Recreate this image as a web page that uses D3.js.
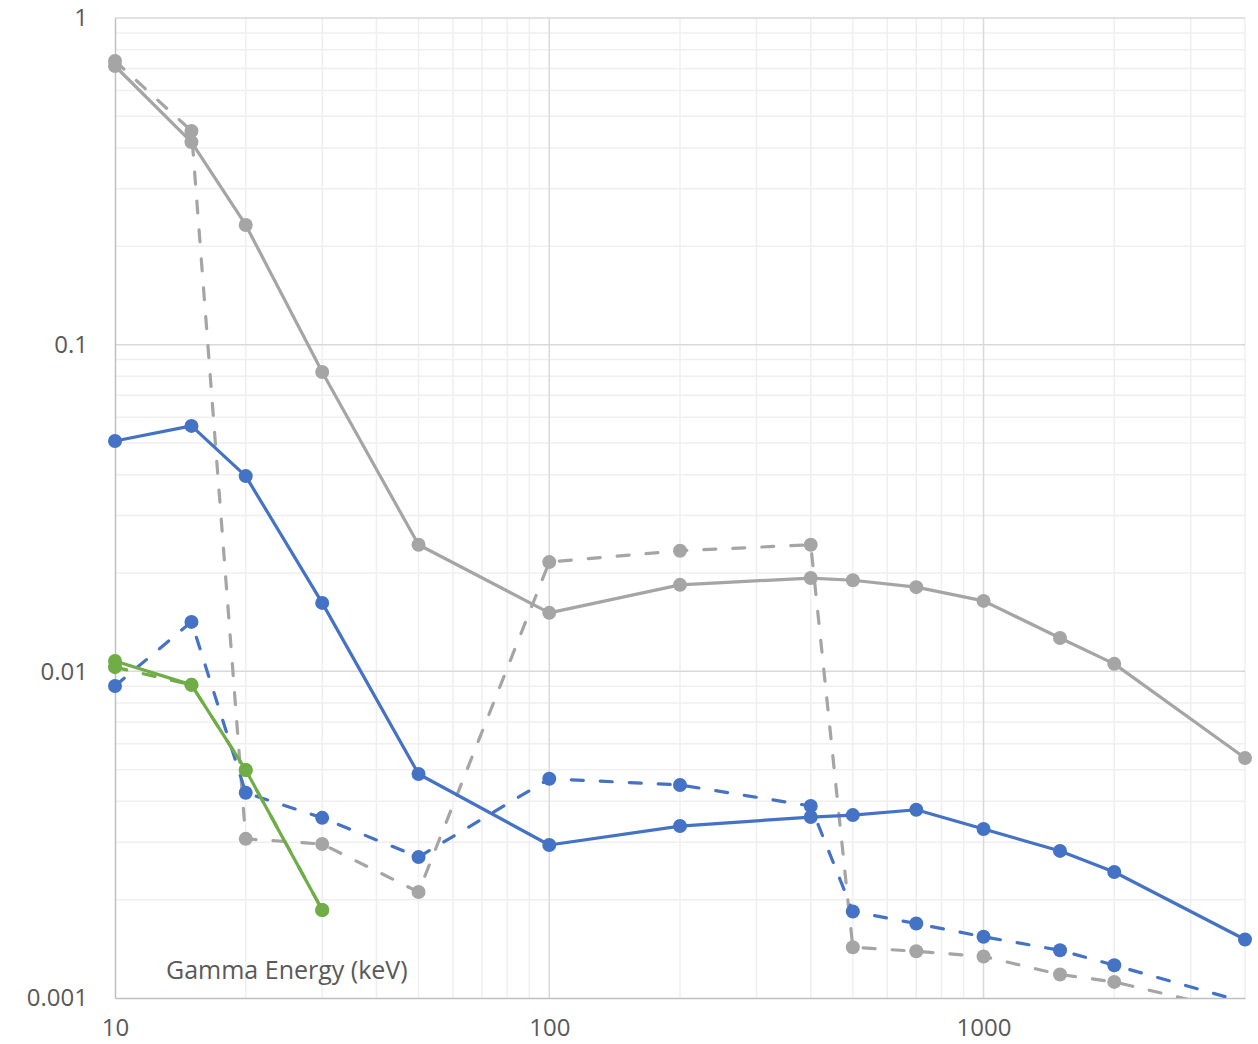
<!DOCTYPE html>
<html>
<head>
<meta charset="utf-8">
<script src="https://cdn.jsdelivr.net/npm/d3@7"></script>
<style>
  html, body { margin: 0; padding: 0; background: #fff; }
  svg { display: block; }
  text { font-family: "Open Sans", "Liberation Sans", sans-serif; fill: #595959; }
</style>
</head>
<body>
<svg id="chart" width="1258" height="1044"></svg>
<script>
// Photon energies (keV)
const energies = [10, 15, 20, 30, 50, 100, 200, 400, 500, 700, 1000, 1500, 2000, 4000];

// Grey series
const greySolid  = [0.713, 0.417, 0.2325, 0.0825, 0.0244, 0.0151, 0.0184, 0.0193, 0.0190, 0.0181, 0.01643, 0.01265, 0.01054, 0.00543];
const greyDashed = [0.739, 0.451, 0.00307, 0.00296, 0.00211, 0.0216, 0.0234, 0.0244, 0.00143, 0.00139, 0.00134, 0.00118, 0.00112, 0.00090];

// Blue series
const blueSolid  = [0.0507, 0.0564, 0.0396, 0.0162, 0.00485, 0.00294, 0.00336, 0.00358, 0.00363, 0.00377, 0.00329, 0.00282, 0.00243, 0.00151];
const blueDashed = [0.00902, 0.01417, 0.00425, 0.00356, 0.0027, 0.00469, 0.00449, 0.00387, 0.00184, 0.00169, 0.00154, 0.0014, 0.00126, 0.00097];

// Green series (low energies only)
const greenEnergies = [10, 15, 20, 30];
const greenSolid  = [0.01076, 0.00909, 0.00499, 0.00186];
const greenDashed = [0.0103, 0.00909, 0.00499, 0.00186];

const xTicks = [10, 100, 1000];
const yTicks = [0.001, 0.01, 0.1, 1];
const xTitle = "Gamma Energy (keV)";

const series = [
  { x: energies, y: greyDashed, color: "#a5a5a5", dashed: true },
  { x: energies, y: blueDashed, color: "#4472c4", dashed: true },
  { x: energies, y: greySolid, color: "#a5a5a5", dashed: false },
  { x: energies, y: blueSolid, color: "#4472c4", dashed: false },
  { x: greenEnergies, y: greenDashed, color: "#70ad47", dashed: true },
  { x: greenEnergies, y: greenSolid, color: "#70ad47", dashed: false }
];

const plot = { left: 115, right: 1245, top: 18, bottom: 998 };
const svg = d3.select("#chart");

const x = d3.scaleLog().domain([10, 4000]).range([plot.left, plot.right]);
const y = d3.scaleLog().domain([0.001, 1]).range([plot.bottom, plot.top]);

// Minor and major gridlines
const minorX = [];
for (let d = 10; d < 10000; d *= 10) for (let k = 2; k <= 9; k++) if (d * k <= 4000) minorX.push(d * k);
const minorY = [];
for (let d = 0.001; d < 1; d *= 10) for (let k = 2; k <= 9; k++) minorY.push(d * k);

const grid = svg.append("g");
grid.selectAll(".mx").data(minorX).join("line")
  .attr("x1", d => x(d)).attr("x2", d => x(d))
  .attr("y1", plot.top).attr("y2", plot.bottom)
  .attr("stroke", "#efefef").attr("stroke-width", 1.5);
grid.selectAll(".my").data(minorY).join("line")
  .attr("x1", plot.left).attr("x2", plot.right)
  .attr("y1", d => y(d)).attr("y2", d => y(d))
  .attr("stroke", "#efefef").attr("stroke-width", 1.5);
grid.selectAll(".Mx").data([100, 1000]).join("line")
  .attr("x1", d => x(d)).attr("x2", d => x(d))
  .attr("y1", plot.top).attr("y2", plot.bottom)
  .attr("stroke", "#d9d9d9").attr("stroke-width", 1.5);
grid.selectAll(".My").data([0.01, 0.1, 1]).join("line")
  .attr("x1", plot.left).attr("x2", plot.right)
  .attr("y1", d => y(d)).attr("y2", d => y(d))
  .attr("stroke", "#d9d9d9").attr("stroke-width", 1.5);

// Axes
const xAxis = d3.axisBottom(x).tickValues(xTicks).tickFormat(d3.format("d")).tickSize(0).tickPadding(21);
const yAxis = d3.axisLeft(y).tickValues(yTicks).tickFormat(d => String(d)).tickSize(0).tickPadding(27);

const gx = svg.append("g").attr("transform", `translate(0,${plot.bottom})`).call(xAxis);
const gy = svg.append("g").attr("transform", `translate(${plot.left},0)`).call(yAxis);
[gx, gy].forEach(g => {
  g.select(".domain").attr("stroke", "#bfbfbf").attr("stroke-width", 1.5);
  g.selectAll("text").attr("font-size", 24).attr("fill", "#595959")
    .style("font-family", "'Open Sans', 'Liberation Sans', sans-serif");
});

// Series lines and markers, clipped to the plot area
svg.append("clipPath").attr("id", "lineClip").append("rect")
  .attr("x", plot.left - 10).attr("y", plot.top - 10)
  .attr("width", plot.right - plot.left + 20).attr("height", plot.bottom - plot.top + 10);

const layer = svg.append("g").attr("clip-path", "url(#lineClip)");
const line = d3.line().x(d => x(d[0])).y(d => y(d[1]));

series.forEach(s => {
  const pts = s.x.map((v, i) => [v, s.y[i]]);
  layer.append("path")
    .attr("d", line(pts))
    .attr("fill", "none")
    .attr("stroke", s.color)
    .attr("stroke-width", 3.2)
    .attr("stroke-linejoin", "round")
    .attr("stroke-linecap", s.dashed ? "round" : "butt")
    .attr("stroke-dasharray", s.dashed ? "12,17" : null);
  layer.selectAll(null).data(pts.filter(p => p[1] >= 0.001)).join("circle")
    .attr("cx", d => x(d[0])).attr("cy", d => y(d[1]))
    .attr("r", 7)
    .attr("fill", s.color);
});

// Axis title drawn inside the plot area
svg.append("text")
  .attr("x", 166).attr("y", 979)
  .attr("font-size", 25)
  .text(xTitle);
</script>
</body>
</html>
